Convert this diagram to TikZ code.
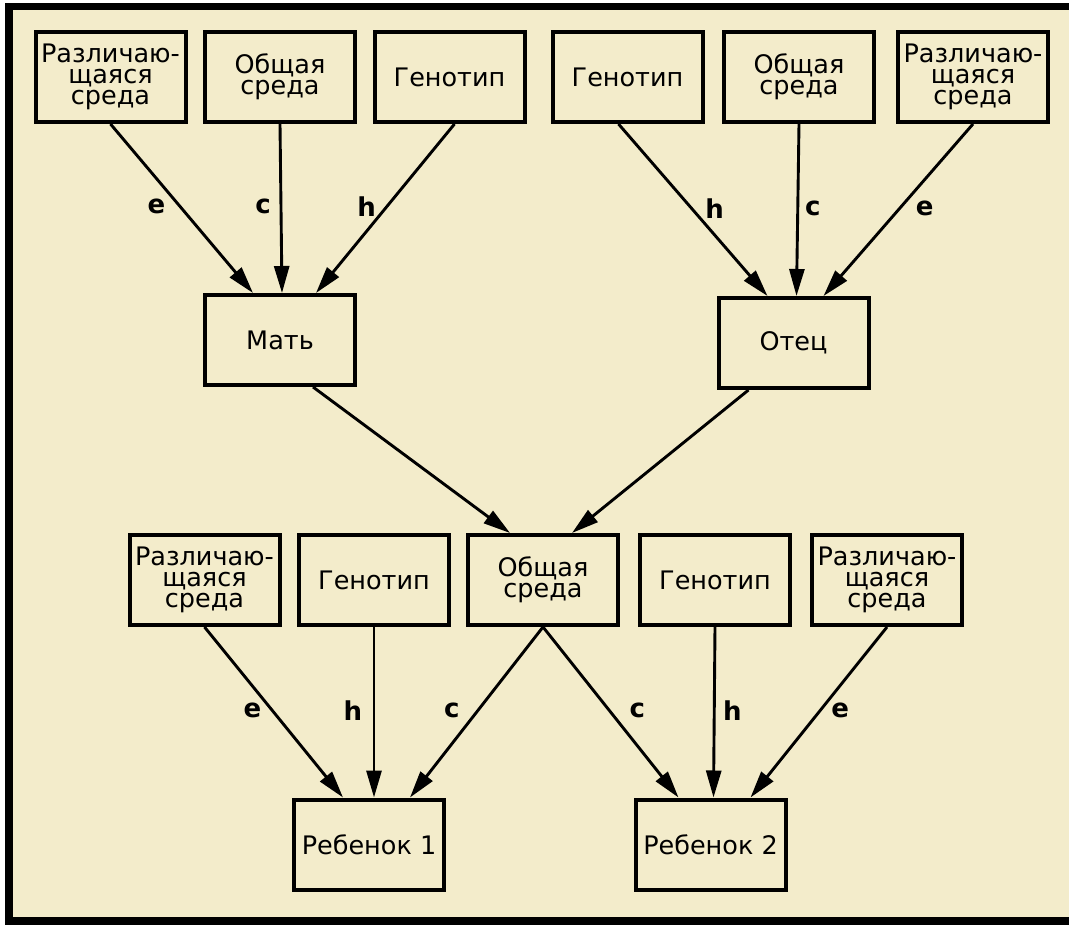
\documentclass[tikz,border=0pt]{standalone}
\usepackage{fontspec}
\setmainfont{DejaVu Sans}
\usetikzlibrary{arrows.meta}
\definecolor{paper}{HTML}{F3ECCB}
\tikzset{
  factor-box/.style={draw, line width=4pt, minimum width=150pt, minimum height=90pt, inner sep=1pt, align=center, font=\fontsize{25.5}{21}\selectfont},
  factor-path/.style={line width=2.9pt, -{Triangle[length=27pt, width=15pt]}},
  factor-label/.style={font=\fontsize{26}{26}\selectfont\bfseries, inner sep=0pt, pos=.49},
}

\begin{document}
\begin{tikzpicture}[x=1pt, y=-1pt]
\useasboundingbox (0, 0) rectangle (1069, 925);
\fill[white] (0, 0) rectangle (1069, 925);
\fill[black] (5, 3) rectangle (1069, 925);
\fill[paper] (13, 10) rectangle (1069, 917);
\node[factor-box] at (110.5, 77) (m env) {Различаю-\\щаяся\\среда};
\node[factor-box] at (280, 77) (m shared) {Общая\\среда};
\node[factor-box] at (449.5, 77) (m genotype) {Генотип};
\node[factor-box] at (627.5, 77) (f genotype) {Генотип};
\node[factor-box] at (799, 77) (f shared) {Общая\\среда};
\node[factor-box] at (973, 77) (f env) {Различаю-\\щаяся\\среда};
\node[factor-box] at (280, 340) (mother) {Мать};
\node[factor-box] at (793.5, 343) (father) {Отец};
\node[factor-box] at (204.5, 580) (c1 env) {Различаю-\\щаяся\\среда};
\node[factor-box] at (374, 580) (c1 genotype) {Генотип};
\node[factor-box] at (543, 580) (shared) {Общая\\среда};
\node[factor-box] at (715, 580) (c2 genotype) {Генотип};
\node[factor-box] at (887, 580) (c2 env) {Различаю-\\щаяся\\среда};
\node[factor-box] at (369, 844.5) (child 1) {Ребенок 1};
\node[factor-box] at (710.5, 844.5) (child 2) {Ребенок 2};
\draw[factor-path] (m env.south) -- node[factor-label, xshift=-24pt] {e} ([xshift=-27pt]mother.north);
\draw[factor-path] (m shared.south) -- node[factor-label, xshift=-18pt] {c} ([xshift=2pt]mother.north);
\draw[factor-path] ([xshift=5pt]m genotype.south) -- node[factor-label, xshift=-20pt] {h} ([xshift=36pt]mother.north);
\draw[factor-path] ([xshift=-9pt]f genotype.south) -- node[factor-label, xshift=23pt] {h} ([xshift=-26pt]father.north);
\draw[factor-path] (f shared.south) -- node[factor-label, xshift=15pt] {c} ([xshift=3pt]father.north);
\draw[factor-path] (f env.south) -- node[factor-label, xshift=25pt] {e} ([xshift=30pt]father.north);
\draw[factor-path] ([xshift=33pt]mother.south) -- ([xshift=-33pt]shared.north);
\draw[factor-path] ([xshift=-45pt]father.south) -- ([xshift=29pt]shared.north);
\draw[factor-path] (c1 env.south) -- node[factor-label, xshift=-20pt] {e} ([xshift=-26pt]child 1.north);
\draw[factor-path] (c1 genotype.south) -- node[factor-label, xshift=-21pt] {h} ([xshift=5pt]child 1.north);
\draw[factor-path] (shared.south) -- node[factor-label, xshift=-26pt] {c} ([xshift=41pt]child 1.north);
\draw[factor-path] (shared.south) -- node[factor-label, xshift=28pt] {c} ([xshift=-32pt]child 2.north);
\draw[factor-path] (c2 genotype.south) -- node[factor-label, xshift=18pt] {h} ([xshift=3pt]child 2.north);
\draw[factor-path] (c2 env.south) -- node[factor-label, xshift=20pt] {e} ([xshift=40pt]child 2.north);
\end{tikzpicture}
\end{document}
